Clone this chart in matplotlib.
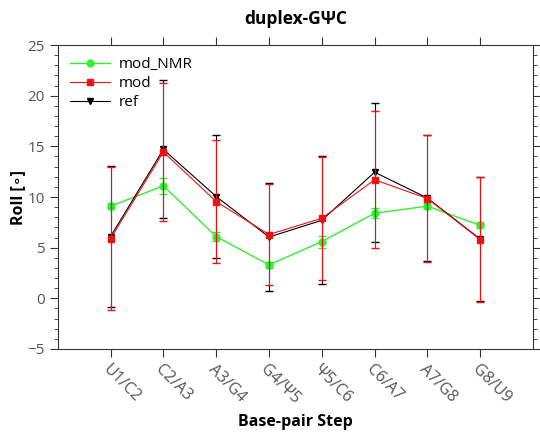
import matplotlib
matplotlib.use('Agg')
import matplotlib.pyplot as plt
import numpy as np
from matplotlib.ticker import MultipleLocator

plt.rcParams['font.family'] = ['Open Sans', 'DejaVu Sans']

schritte = ['U1/C2', 'C2/A3', 'A3/G4', 'G4/Ψ5', 'Ψ5/C6', 'C6/A7', 'A7/G8', 'G8/U9']

mod_nmr = [9.1, 11.1, 6.1, 3.3, 5.6, 8.4, 9.1, 7.2]
mod_nmr_err = [0.3, 0.8, 0.4, 0.3, 0.6, 0.5, 0.3, 0.3]

mod = [5.9, 14.45, 9.55, 6.3, 7.9, 11.7, 9.85, 5.8]
mod_err = [7.1, 6.8, 6.05, 5.0, 6.05, 6.75, 6.25, 6.15]

ref = [6.1, 14.7, 10.05, 6.05, 7.7, 12.45, 9.9, 5.85]
ref_err = [7.0, 6.8, 6.1, 5.3, 6.3, 6.85, 6.25, 6.15]

x = np.arange(1, len(schritte) + 1)

fig = plt.figure(figsize=(5.4, 4.33), dpi=100)
ax = fig.add_axes([0.107, 0.194, 0.880, 0.702])

e_nmr = ax.errorbar(x, mod_nmr, yerr=mod_nmr_err, color='#33ee33', marker='o', markersize=5,
                    lw=1, capsize=3, elinewidth=1, zorder=3)
e_ref = ax.errorbar(x, ref, yerr=ref_err, color='black', marker='v', markersize=4,
                    lw=0.8, capsize=3, elinewidth=0.8, zorder=4)
e_mod = ax.errorbar(x, mod, yerr=mod_err, color='#ee1111', marker='s', markersize=5,
                    lw=0.8, capsize=3, elinewidth=0.8, zorder=5)

# Legende nur mit Linie + Marker (ohne Fehlerbalken)
ax.legend([e_nmr[0], e_mod[0], e_ref[0]], ['mod_NMR', 'mod', 'ref'],
          loc='upper left', frameon=False, fontsize=11, handlelength=2.6,
          borderaxespad=0.4, labelspacing=0.25, handletextpad=0.6)

ax.set_xlim(0, 9)
ax.set_ylim(-5, 25)
ax.set_xticks(x)
ax.set_xticklabels(schritte, rotation=-45, ha='left', rotation_mode='anchor', fontsize=11.5, color='#555555')
ax.yaxis.set_major_locator(MultipleLocator(5))
ax.yaxis.set_minor_locator(MultipleLocator(1))
ax.tick_params(axis='y', labelsize=11, labelcolor='#555555')
ax.tick_params(axis='x', pad=3)
ax.tick_params(which='both', direction='out', top=True, right=True, color='#333333')
ax.tick_params(which='major', length=6)
ax.tick_params(which='minor', length=3)
for s in ax.spines.values():
    s.set_color('#333333')

ax.set_title('duplex-GΨC', fontweight='bold', fontsize=12.5, pad=15)
ax.set_ylabel('Roll [∘]', fontweight='bold', fontsize=11.5, labelpad=1)
ax.set_xlabel('Base-pair Step', fontweight='bold', fontsize=11.5, labelpad=5)

fig.savefig('out.png', dpi=100)
